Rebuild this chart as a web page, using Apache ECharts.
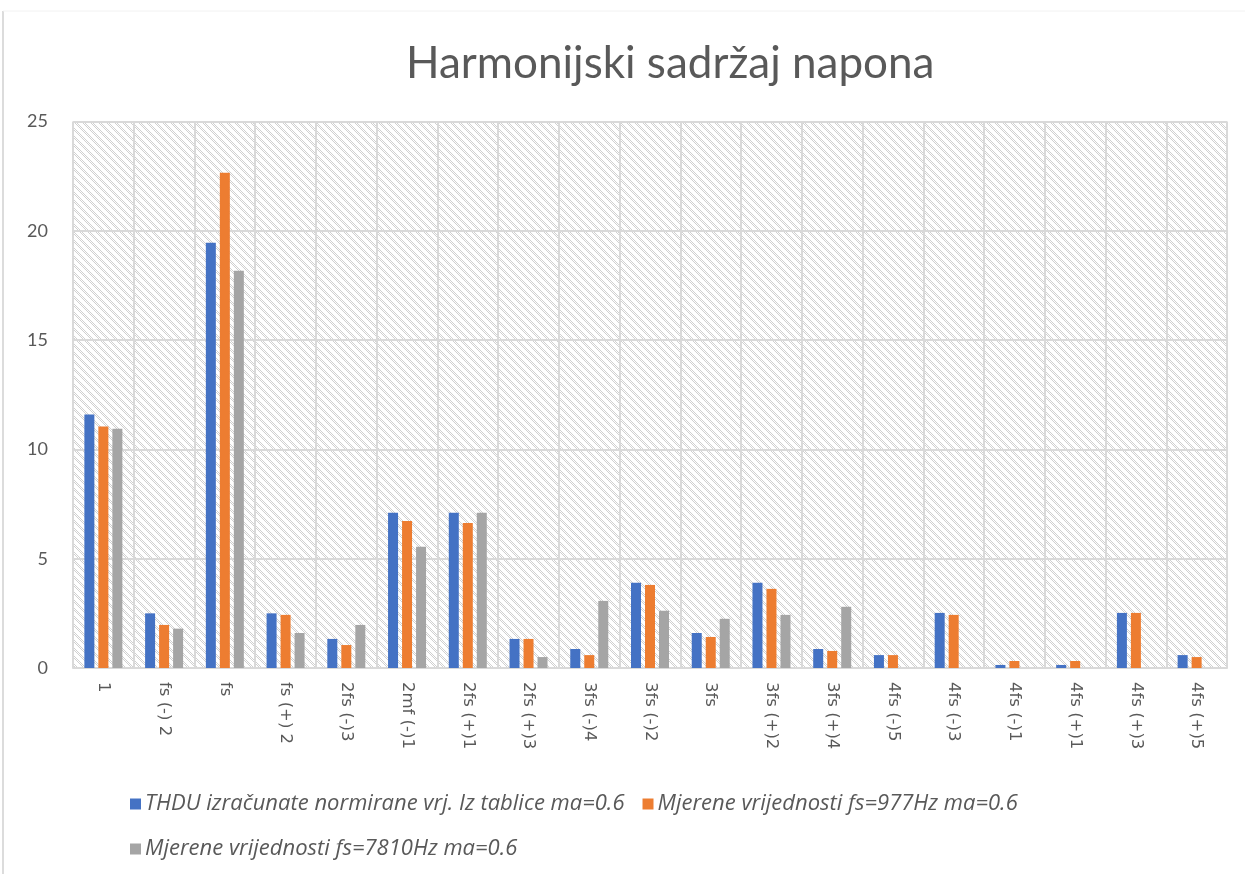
<!DOCTYPE html>
<html>
<head>
<meta charset="utf-8">
<style>
  html, body { margin: 0; padding: 0; background: #ffffff; }
  #chart { width: 1245px; height: 874px; }
</style>
<script src="https://cdn.jsdelivr.net/npm/echarts@6/dist/echarts.min.js"></script>
</head>
<body>
<div id="chart"></div>
<script>
// Harmonic components (x axis)
const categories = ['1', 'fs (-) 2', 'fs', 'fs (+) 2', '2fs (-)3', '2mf (-)1', '2fs (+)1', '2fs (+)3',
  '3fs (-)4', '3fs (-)2', '3fs', '3fs (+)2', '3fs (+)4', '4fs (-)5', '4fs (-)3', '4fs (-)1',
  '4fs (+)1', '4fs (+)3', '4fs (+)5'];

const seriesNames = [
  'THDU izračunate normirane vrj. Iz tablice ma=0.6',
  'Mjerene vrijednosti fs=977Hz ma=0.6',
  'Mjerene vrijednosti fs=7810Hz ma=0.6'
];

// Calculated THDU values
const thduCalc = [11.6, 2.5, 19.45, 2.5, 1.33, 7.1, 7.1, 1.33, 0.87, 3.9, 1.6, 3.9, 0.87, 0.59, 2.52, 0.14, 0.14, 2.52, 0.59];
// Measured, fs = 977 Hz
const meas977 = [11.05, 1.97, 22.65, 2.43, 1.05, 6.72, 6.63, 1.33, 0.59, 3.8, 1.42, 3.62, 0.78, 0.59, 2.43, 0.32, 0.32, 2.52, 0.5];
// Measured, fs = 7810 Hz
const meas7810 = [10.95, 1.8, 18.17, 1.6, 1.97, 5.55, 7.1, 0.5, 3.07, 2.62, 2.25, 2.43, 2.8, 0, 0, 0, 0, 0, 0];

const yTicks = { min: 0, max: 25, interval: 5 };
const colors = ['#4472C4', '#ED7D31', '#A5A5A5'];

// Light diagonal hatch used as the plot-area fill
function hatchTile() {
  const c = document.createElement('canvas');
  c.width = 8; c.height = 8;
  const ctx = c.getContext('2d');
  ctx.fillStyle = '#ffffff';
  ctx.fillRect(0, 0, 8, 8);
  ctx.fillStyle = '#d0d0d0';
  for (let y = 0; y < 8; y++) {
    for (let x = 0; x < 8; x++) {
      const d = (x - y + 8) % 8;
      if ((d === 0 || d === 1 || d === 2) && (x + y) % 2 === 0) ctx.fillRect(x, y, 1, 1);
    }
  }
  return c;
}

const chart = echarts.init(document.getElementById('chart'), null, { renderer: 'canvas' });
const textColor = '#595959';
const gridColor = '#d9d9d9';

const series = [thduCalc, meas977, meas7810].map((vals, i) => ({
  name: seriesNames[i],
  type: 'bar',
  data: vals,
  barWidth: 10,
  barGap: '40%',
  itemStyle: { color: colors[i] }
}));

const legendText = { fontFamily: 'Open Sans', fontStyle: 'italic', fontSize: 22, color: textColor, padding: [0, 0, 0, -1] };

chart.setOption({
  animation: false,
  backgroundColor: '#ffffff',
  color: colors,
  title: {
    text: 'Harmonijski sadržaj napona',
    left: 401,
    top: 37,
    textStyle: { fontFamily: 'Lato', fontSize: 44, fontWeight: 'normal', color: textColor }
  },
  graphic: [
    { type: 'line', shape: { x1: 3, y1: 11, x2: 3, y2: 874 }, style: { stroke: '#dcdcdc', lineWidth: 2 } },
    { type: 'line', shape: { x1: 3, y1: 11, x2: 1245, y2: 11 }, style: { stroke: '#f2f2f2', lineWidth: 1 } }
  ],
  legend: [
    {
      data: seriesNames.slice(0, 2),
      left: 125, top: 788,
      itemWidth: 11, itemHeight: 11, itemGap: 18,
      icon: 'rect',
      textStyle: legendText
    },
    {
      data: seriesNames.slice(2),
      left: 125, top: 833,
      itemWidth: 11, itemHeight: 11,
      icon: 'rect',
      textStyle: legendText
    }
  ],
  grid: {
    left: 73, right: 18, top: 121.5, bottom: 206,
    show: true,
    borderWidth: 0,
    backgroundColor: { image: hatchTile(), repeat: 'repeat' }
  },
  xAxis: {
    type: 'category',
    data: categories,
    boundaryGap: true,
    axisLine: { lineStyle: { color: gridColor, width: 2 } },
    axisTick: { show: false },
    splitLine: { show: true, interval: 0, lineStyle: { color: gridColor, width: 2 } },
    axisLabel: {
      interval: 0, rotate: -90, margin: 14,
      fontFamily: 'DejaVu Sans', fontSize: 16.5, color: textColor
    }
  },
  yAxis: {
    type: 'value',
    min: yTicks.min, max: yTicks.max, interval: yTicks.interval,
    axisLine: { show: false },
    axisTick: { show: false },
    splitLine: { lineStyle: { color: gridColor, width: 2 } },
    axisLabel: { margin: 25, fontFamily: 'Lato', fontSize: 18, color: textColor }
  },
  series: series
});
</script>
</body>
</html>
